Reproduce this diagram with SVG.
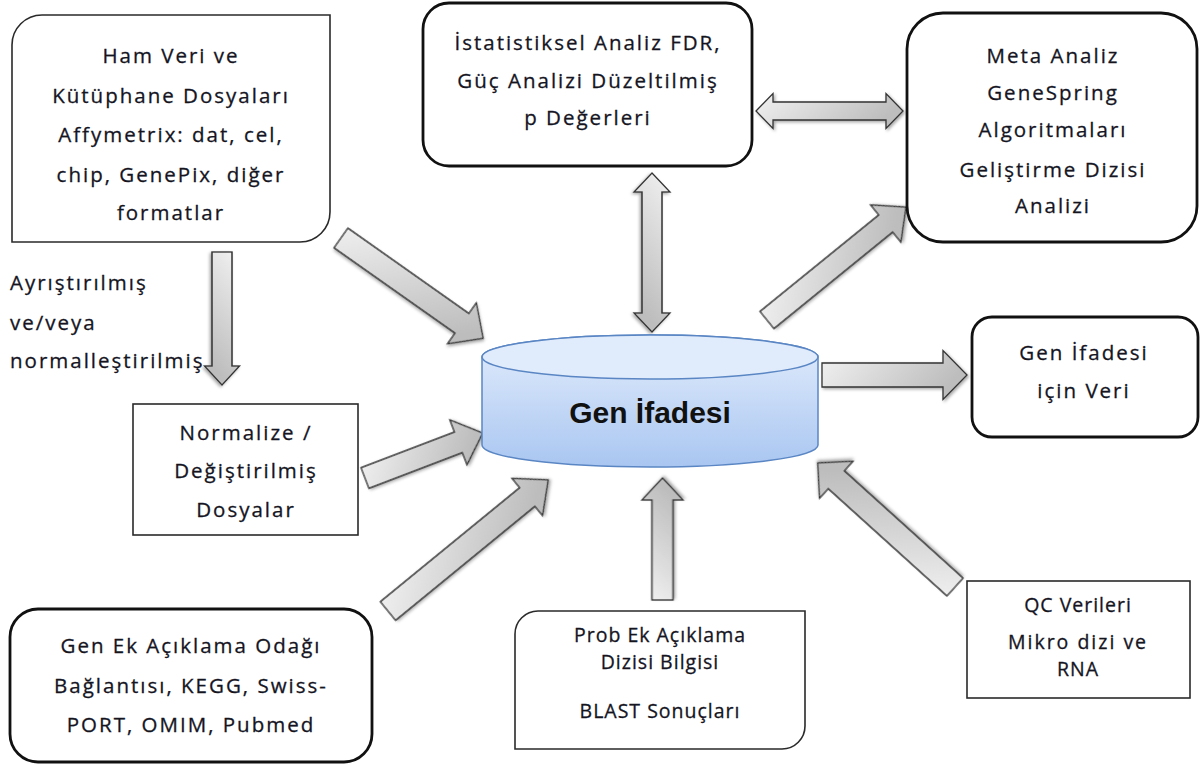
<svg xmlns="http://www.w3.org/2000/svg" width="1202" height="766" viewBox="0 0 1202 766">
  <defs>
    <linearGradient id="arrowFill" x1="0" y1="0" x2="1" y2="0.3">
      <stop offset="0" stop-color="#f2f2f2"/>
      <stop offset="1" stop-color="#bdbdbd"/>
    </linearGradient>
    <linearGradient id="cylFill" x1="0" y1="0" x2="0" y2="1">
      <stop offset="0" stop-color="#e3edfc"/>
      <stop offset="1" stop-color="#a9c6f1"/>
    </linearGradient>
    <filter id="shadow" x="-20%" y="-20%" width="140%" height="140%">
      <feDropShadow dx="1.5" dy="1.5" stdDeviation="1.5" flood-color="#000" flood-opacity="0.35"/>
    </filter>
    <style>
      .txt { font-family: "Open Sans", "Liberation Sans", sans-serif; font-size: 20.5px; fill: #15151f; stroke: #15151f; stroke-width: 0.3px; text-anchor: middle; letter-spacing: 2px; }
      .tight { font-size: 19.5px; letter-spacing: 1px; }
      .left { text-anchor: start; }
      .thin { fill: #fff; stroke: #2a2a2a; stroke-width: 1.6; }
      .thick { fill: #fff; stroke: #111; stroke-width: 2.8; }
      .arrow { fill: url(#arrowFill); stroke: #333; stroke-width: 1.3; stroke-linejoin: miter; filter: url(#shadow); }
      .cyl { fill: url(#cylFill); stroke: #5a86c4; stroke-width: 1.5; }
      .cyltop { fill: #e0ebfb; stroke: #5a86c4; stroke-width: 1.5; }
      .title { font-family: "Liberation Sans", Arial, sans-serif; font-size: 30px; font-weight: bold; fill: #111; text-anchor: middle; }
    </style>
  </defs>
  <rect width="1202" height="766" fill="#fff"/>

  <!-- connectors: block arrows -->
  <g id="connectors">
    <!-- raw data -> normalized files -->
    <path class="arrow" transform="translate(222,252) rotate(90)" d="M0,-10 L114,-10 L114,-17.5 L133,0 L114,17.5 L114,10 L0,10 Z"/>
    <!-- raw data -> gene expression -->
    <path class="arrow" transform="translate(341,238) rotate(35.2)" d="M0,-12 L148,-12 L148,-25 L174,0 L148,25 L148,12 L0,12 Z"/>
    <!-- normalized files -> gene expression -->
    <path class="arrow" transform="translate(365,478) rotate(-20.9)" d="M0,-11 L100,-11 L100,-24 L126,0 L100,24 L100,11 L0,11 Z"/>
    <!-- annotation focus -> gene expression -->
    <path class="arrow" transform="translate(388,611) rotate(-39.3)" d="M0,-12 L180,-12 L180,-24 L207,0 L180,24 L180,12 L0,12 Z"/>
    <!-- probe annotation -> gene expression -->
    <path class="arrow" transform="translate(662.5,600) rotate(-90)" d="M0,-10.5 L100,-10.5 L100,-20.5 L122,0 L100,20.5 L100,10.5 L0,10.5 Z"/>
    <!-- QC data -> gene expression -->
    <path class="arrow" transform="translate(955,587) rotate(-137.9)" d="M0,-12 L160,-12 L160,-25 L185,0 L160,25 L160,12 L0,12 Z"/>
    <!-- gene expression -> data for gene expression -->
    <path class="arrow" transform="translate(822,375)" d="M0,-12 L121,-12 L121,-24.5 L145,0 L121,24.5 L121,12 L0,12 Z"/>
    <!-- gene expression -> meta analysis -->
    <path class="arrow" transform="translate(767,320) rotate(-39.1)" d="M0,-11 L153,-11 L153,-24 L179,0 L153,24 L153,11 L0,11 Z"/>
    <!-- statistics <-> gene expression -->
    <path class="arrow" transform="translate(652,173) rotate(90)" d="M0,0 L19,-18 L19,-10 L140,-10 L140,-18 L159,0 L140,18 L140,10 L19,10 L19,18 Z"/>
    <!-- statistics <-> meta analysis -->
    <path class="arrow" transform="translate(756,111)" d="M0,0 L17,-17.5 L17,-9 L130,-9 L130,-17.5 L147,0 L130,17.5 L130,9 L17,9 L17,17.5 Z"/>
  </g>

  <!-- raw data and library files -->
  <g id="raw-data">
    <path class="thin" d="M12,242 L12,45 A30,30 0 0 1 42,15 L330,15 L330,212 A30,30 0 0 1 300,242 Z"/>
    <text class="txt" x="171" y="63">Ham Veri ve</text>
    <text class="txt" x="171" y="103">Kütüphane Dosyaları</text>
    <text class="txt" x="171" y="142">Affymetrix: dat, cel,</text>
    <text class="txt" x="171" y="182">chip, GenePix, diğer</text>
    <text class="txt" x="171" y="220">formatlar</text>
  </g>

  <!-- label beside the downward arrow -->
  <g id="parse-label">
    <text class="txt left" x="10" y="290">Ayrıştırılmış</text>
    <text class="txt left" x="10" y="330">ve/veya</text>
    <text class="txt left" x="10" y="368">normalleştirilmiş</text>
  </g>

  <!-- statistical analysis -->
  <g id="statistics">
    <rect class="thick" x="423" y="3" width="329" height="163" rx="26" ry="26"/>
    <text class="txt" x="588" y="50">İstatistiksel Analiz FDR,</text>
    <text class="txt" x="588" y="88">Güç Analizi Düzeltilmiş</text>
    <text class="txt" x="588" y="125">p Değerleri</text>
  </g>

  <!-- meta analysis -->
  <g id="meta-analysis">
    <rect class="thick" x="907" y="13" width="290" height="229" rx="36" ry="36"/>
    <text class="txt" x="1053" y="63">Meta Analiz</text>
    <text class="txt" x="1053" y="100">GeneSpring</text>
    <text class="txt" x="1053" y="137">Algoritmaları</text>
    <text class="txt" x="1053" y="177">Geliştirme Dizisi</text>
    <text class="txt" x="1053" y="213">Analizi</text>
  </g>

  <!-- central store -->
  <g id="gene-expression">
    <path class="cyl" d="M482,357 L482,445 A168,22 0 0 0 818,445 L818,357 A168,22 0 0 0 482,357 Z"/>
    <ellipse class="cyltop" cx="650" cy="357" rx="168" ry="22"/>
    <text class="title" x="650" y="423">Gen İfadesi</text>
  </g>

  <!-- output data -->
  <g id="output-data">
    <rect class="thick" x="972" y="317" width="226" height="120" rx="20" ry="20"/>
    <text class="txt" x="1084" y="360">Gen İfadesi</text>
    <text class="txt" x="1084" y="398">için Veri</text>
  </g>

  <!-- normalized files -->
  <g id="normalized">
    <rect class="thin" x="133" y="404" width="225" height="131"/>
    <text class="txt" x="246" y="440">Normalize /</text>
    <text class="txt" x="246" y="478">Değiştirilmiş</text>
    <text class="txt" x="246" y="517">Dosyalar</text>
  </g>

  <!-- gene annotation -->
  <g id="gene-annotation">
    <rect class="thick" x="10" y="609" width="362" height="153" rx="28" ry="28"/>
    <text class="txt" x="191" y="653">Gen Ek Açıklama Odağı</text>
    <text class="txt" x="191" y="693">Bağlantısı, KEGG, Swiss-</text>
    <text class="txt" x="191" y="732">PORT, OMIM, Pubmed</text>
  </g>

  <!-- probe annotation -->
  <g id="probe-annotation">
    <path class="thin" d="M515,749 L515,634 A23,23 0 0 1 538,611 L805,611 L805,726 A23,23 0 0 1 782,749 Z"/>
    <text class="txt tight" x="660" y="642">Prob Ek Açıklama</text>
    <text class="txt tight" x="660" y="669">Dizisi Bilgisi</text>
    <text class="txt tight" x="660" y="718">BLAST Sonuçları</text>
  </g>

  <!-- QC data -->
  <g id="qc-data">
    <rect class="thin" x="967" y="581" width="223" height="117"/>
    <text class="txt tight" x="1078" y="612">QC Verileri</text>
    <text class="txt tight" x="1078" y="649" style="letter-spacing:2px">Mikro dizi ve</text>
    <text class="txt tight" x="1078" y="676">RNA</text>
  </g>
</svg>
